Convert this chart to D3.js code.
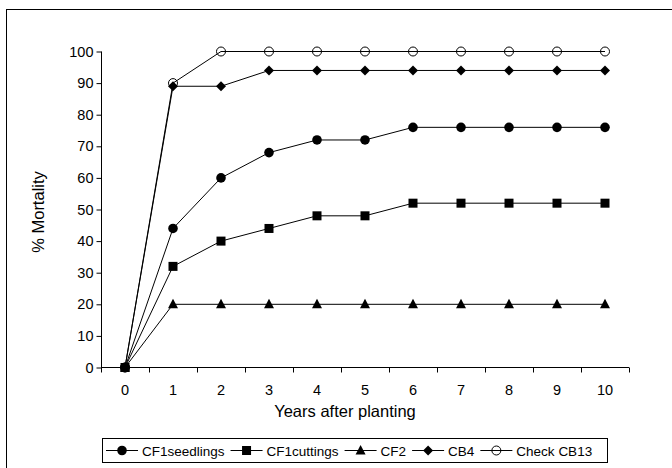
<!DOCTYPE html>
<html>
<head>
<meta charset="utf-8">
<script src="https://cdn.jsdelivr.net/npm/d3@7"></script>
<style>
  body { margin: 0; background: #fff; }
  svg { font-family: "Liberation Sans", Arial, sans-serif; }
</style>
</head>
<body>
<svg width="672" height="468"></svg>
<script>
var years = ["0", "1", "2", "3", "4", "5", "6", "7", "8", "9", "10"];
var yTicks = [0, 10, 20, 30, 40, 50, 60, 70, 80, 90, 100];

var cf1Seedlings = [0, 44, 60, 68, 72, 72, 76, 76, 76, 76, 76];
var cf1Cuttings = [0, 32, 40, 44, 48, 48, 52, 52, 52, 52, 52];
var cf2 = [0, 20, 20, 20, 20, 20, 20, 20, 20, 20, 20];
var cb4 = [0, 89, 89, 94, 94, 94, 94, 94, 94, 94, 94];
var checkCB13 = [0, 90, 100, 100, 100, 100, 100, 100, 100, 100, 100];

var seriesNames = ["CF1seedlings", "CF1cuttings", "CF2", "CB4", "Check CB13"];
var seriesValues = [cf1Seedlings, cf1Cuttings, cf2, cb4, checkCB13];
var markers = ["circle", "square", "triangle", "diamond", "open"];

var svg = d3.select("svg");

// outer frame, runs off the right and bottom edge
svg.append("rect")
    .attr("x", 6.5).attr("y", 9.5)
    .attr("width", 700).attr("height", 500)
    .attr("fill", "none").attr("stroke", "#000").attr("stroke-width", 1);

var x = d3.scaleBand().domain(years).range([101, 629]);
var y = d3.scaleLinear().domain([0, 100]).range([367.5, 51.5]);

var g = svg.append("g");

// y axis
var yAxis = g.append("g")
    .attr("transform", "translate(101.5,0)")
    .call(d3.axisLeft(y).tickValues(yTicks).tickSize(5).tickPadding(3));
yAxis.select(".domain").attr("d", "M0," + y(100) + "V" + y(0));

// x axis: ticks on band edges
var xAxis = g.append("g").attr("transform", "translate(0," + 367.5 + ")");
xAxis.append("line")
    .attr("x1", 101).attr("x2", 629)
    .attr("stroke", "#000");
var edges = years.map(function (d) { return x(d); }).concat([x.range()[1]]);
xAxis.selectAll(".edge")
    .data(edges)
    .enter().append("line")
    .attr("class", "edge")
    .attr("x1", function (d) { return Math.round(d) + 0.5; })
    .attr("x2", function (d) { return Math.round(d) + 0.5; })
    .attr("y1", 0).attr("y2", 5)
    .attr("stroke", "#000");
xAxis.selectAll(".lbl")
    .data(years)
    .enter().append("text")
    .attr("class", "lbl")
    .attr("x", function (d) { return x(d) + x.bandwidth() / 2; })
    .attr("y", 27.5)
    .attr("text-anchor", "middle")
    .style("font-size", "14.5px")
    .text(function (d) { return d; });

g.selectAll(".tick text").style("font-size", "14.5px").attr("fill", "#000");
g.selectAll(".tick line").attr("stroke", "#000");
g.selectAll(".domain").attr("stroke", "#000");

// axis titles
svg.append("text")
    .attr("x", 345).attr("y", 417)
    .attr("text-anchor", "middle")
    .style("font-size", "16.5px")
    .text("Years after planting");
svg.append("text")
    .attr("transform", "translate(44,212) rotate(-90)")
    .attr("text-anchor", "middle")
    .style("font-size", "16.5px")
    .text("% Mortality");

function drawMarker(sel, type) {
    if (type === "circle") {
        sel.append("circle").attr("r", 4.8).attr("fill", "#000");
    } else if (type === "open") {
        sel.append("circle").attr("r", 4.5).attr("fill", "none").attr("stroke", "#000");
    } else if (type === "square") {
        sel.append("rect").attr("x", -4.5).attr("y", -4.5).attr("width", 9).attr("height", 9).attr("fill", "#000");
    } else if (type === "triangle") {
        sel.append("path").attr("d", "M0,-5.5L5,4L-5,4Z").attr("fill", "#000");
    } else if (type === "diamond") {
        sel.append("path").attr("d", "M0,-5L5,0L0,5L-5,0Z").attr("fill", "#000");
    }
}

var line = d3.line()
    .x(function (d, i) { return x(years[i]) + x.bandwidth() / 2; })
    .y(function (d) { return y(d); });

seriesValues.forEach(function (vals, k) {
    g.append("path")
        .datum(vals)
        .attr("d", line)
        .attr("fill", "none")
        .attr("stroke", "#000")
        .attr("stroke-width", 1);
});

seriesValues.forEach(function (vals, k) {
    g.selectAll(".m" + k)
        .data(vals)
        .enter().append("g")
        .attr("class", "m" + k)
        .attr("transform", function (d, i) {
            return "translate(" + (x(years[i]) + x.bandwidth() / 2) + "," + y(d) + ")";
        })
        .each(function () { drawMarker(d3.select(this), markers[k]); });
});

// legend, items laid out one after another
var legend = svg.append("g");
legend.append("rect")
    .attr("x", 102.5).attr("y", 438.5)
    .attr("width", 505).attr("height", 24)
    .attr("fill", "#fff").attr("stroke", "#000");

var cursor = 106;
seriesNames.forEach(function (name, k) {
    var item = legend.append("g").attr("transform", "translate(" + cursor + ",450.5)");
    item.append("line").attr("x1", 0).attr("x2", 32).attr("stroke", "#000");
    var m = item.append("g").attr("transform", "translate(16,0)");
    drawMarker(m, markers[k]);
    var t = item.append("text")
        .attr("x", 36).attr("y", 5)
        .style("font-size", "13.5px")
        .text(name);
    cursor += 36 + t.node().getComputedTextLength() + 6;
});
</script>
</body>
</html>
